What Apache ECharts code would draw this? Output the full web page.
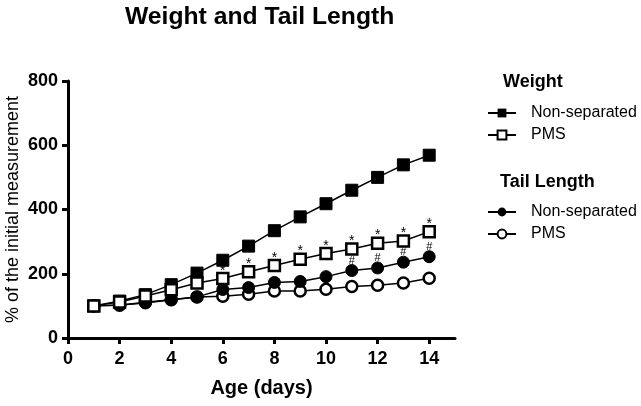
<!DOCTYPE html>
<html>
<head>
<meta charset="utf-8">
<script src="https://cdn.jsdelivr.net/npm/echarts@6/dist/echarts.min.js"></script>
<style>html,body{margin:0;padding:0;background:#fff}#c{width:641px;height:406px}</style>
</head>
<body>
<div id="c"></div>
<script>
var days = [1,2,3,4,5,6,7,8,9,10,11,12,13,14];
var weightNonSeparated = [100,115,135,166,202,242,286,334,377,418,460,500,539,569];
var weightPMS = [100,112,131,150,171,185,206,226,245,263,277,295,302,331];
var tailNonSeparated = [100,103,109,119,128,151,157,173,176,191,210,218,236,253];
var tailPMS = [100,102,111,119,128,130,136,146,146,152,160,164,171,186];
var weightPMSMarks = ['','','','','','*','*','*','*','*','*','*','*','*'];
var tailNSMarks = ['','','','','','','','','','','#','#','#','#'];
var xTicks = [0,2,4,6,8,10,12,14];
var yTicks = [0,200,400,600,800];

function pts(vals){ return days.map(function(d,i){ return [d, vals[i]]; }); }
function labeled(vals, marks, size, dy){
  return days.map(function(d,i){
    return {value:[d, vals[i]], label:{show: marks[i] !== '', formatter: marks[i], position:'top', distance: 2, offset:[0, dy], fontSize: size, color:'#000', fontFamily:'Liberation Sans'}};
  });
}
var FONT = 'Liberation Sans';
var chart = echarts.init(document.getElementById('c'));
var lineStyle = {color:'#000', width:1.5};
chart.setOption({
  backgroundColor:'#fff',
  animation:false,
  title:[
    {text:'Weight and Tail Length', left:120, top:0, textStyle:{fontFamily:FONT, fontSize:24.7, fontWeight:'bold', color:'#000'}},
    {text:'Weight', left:498, top:68, textStyle:{fontFamily:FONT, fontSize:18, fontWeight:'bold', color:'#000'}},
    {text:'Tail Length', left:495, top:168, textStyle:{fontFamily:FONT, fontSize:18, fontWeight:'bold', color:'#000'}}
  ],
  grid:{left:68, right:186, top:81, bottom:68, outerBoundsMode:'none', containLabel:false},
  legend:[
    {data:['Weight Non-separated','Weight PMS'], orient:'vertical', left:482, top:100, itemWidth:28, itemHeight:11, itemGap:6,
     formatter:function(n){return n.replace('Weight ','');},
     textStyle:{fontFamily:FONT, fontSize:16, color:'#000', lineHeight:16, padding:[0,0,0,10]}},
    {data:['Tail Non-separated','Tail PMS'], orient:'vertical', left:482, top:199, itemWidth:28, itemHeight:11, itemGap:6,
     formatter:function(n){return n.replace('Tail ','');},
     textStyle:{fontFamily:FONT, fontSize:16, color:'#000', lineHeight:16, padding:[0,0,0,10]}}
  ],
  xAxis:{type:'value', min:0, max:15, interval:2,
    name:'Age (days)', nameLocation:'middle', nameGap:40, nameMoveOverlap:false,
    nameTextStyle:{fontFamily:FONT, fontSize:20, fontWeight:'bold', color:'#000'},
    axisLine:{lineStyle:{color:'#000', width:3}},
    axisTick:{show:true, length:6, lineStyle:{color:'#000', width:3}, customValues:xTicks},
    axisLabel:{customValues:xTicks, margin:12, fontFamily:FONT, fontSize:18, fontWeight:'bold', color:'#000',
      formatter:function(v){ return v>14 ? '' : String(v); }},
    splitLine:{show:false}
  },
  yAxis:{type:'value', min:0, max:800, interval:200,
    name:'% of the initial measurement', nameLocation:'middle', nameGap:46, nameMoveOverlap:false,
    nameTextStyle:{fontFamily:FONT, fontSize:18, color:'#000'},
    axisLine:{show:true, lineStyle:{color:'#000', width:3}},
    axisTick:{show:true, length:6, lineStyle:{color:'#000', width:3}, customValues:yTicks},
    axisLabel:{customValues:yTicks, margin:10, fontFamily:FONT, fontSize:18, fontWeight:'bold', color:'#000'},
    splitLine:{show:false}
  },
  series:[
    {name:'Weight Non-separated', type:'line', data:pts(weightNonSeparated), symbol:'rect', symbolSize:12,
     itemStyle:{color:'#000', borderColor:'#000'}, lineStyle:lineStyle, z:3},
    {name:'Weight PMS', type:'line', data:labeled(weightPMS, weightPMSMarks, 14, 8), symbol:'rect', symbolSize:11,
     itemStyle:{color:'#fff', borderColor:'#000', borderWidth:2.5}, lineStyle:lineStyle, z:5},
    {name:'Tail Non-separated', type:'line', data:labeled(tailNonSeparated, tailNSMarks, 11, 4), symbol:'circle', symbolSize:12,
     itemStyle:{color:'#000', borderColor:'#000'}, lineStyle:lineStyle, z:4},
    {name:'Tail PMS', type:'line', data:pts(tailPMS), symbol:'circle', symbolSize:11,
     itemStyle:{color:'#fff', borderColor:'#000', borderWidth:2.5}, lineStyle:lineStyle, z:1}
  ]
});
</script>
</body>
</html>
